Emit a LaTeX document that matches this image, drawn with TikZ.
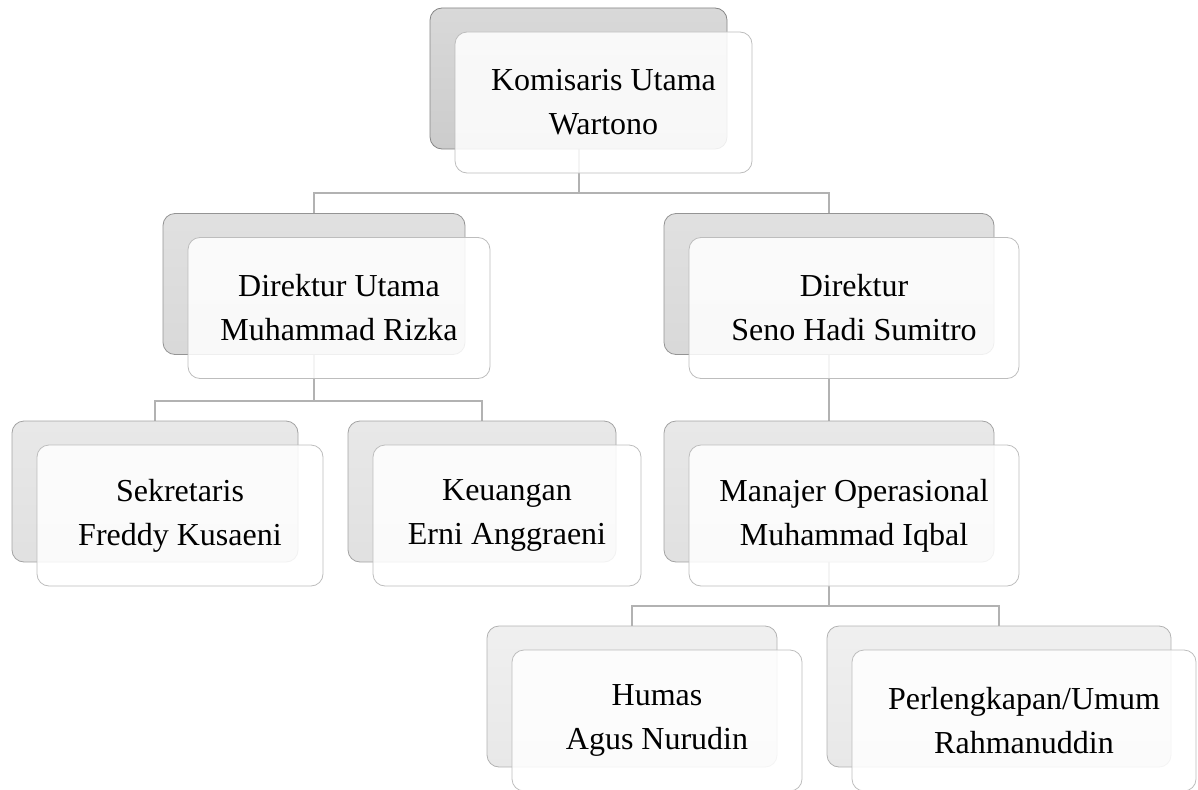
\documentclass[tikz,border=0pt]{standalone}
\usepackage{fontspec}
\setmainfont{Liberation Serif}
\usetikzlibrary{backgrounds}
\tikzset{
  backbox/.style={rectangle, rounded corners=12, minimum height=141, inner sep=0pt, line width=0.8pt},
  lvlA/.style={backbox, draw=black!48, top color=black!15, bottom color=black!20},
  lvlB/.style={backbox, draw=black!42, top color=black!12, bottom color=black!15},
  lvlC/.style={backbox, draw=black!36, top color=black!9, bottom color=black!12},
  lvlD/.style={backbox, draw=black!30, top color=black!6, bottom color=black!9},
  frontbox/.style={rectangle, rounded corners=12, minimum height=141, inner sep=0pt,
    draw=black!26, line width=0.8pt, fill=white, fill opacity=0.86, text opacity=1,
    align=center, font=\fontsize{32}{44}\selectfont},
  link/.style={draw=black!30, line width=2pt}
}
\begin{document}
\begin{tikzpicture}[x=1pt, y=-1pt]
            \useasboundingbox (0,0) rectangle (1198,789);
            \node[lvlA, minimum width=297] (komB) at (578.5,78.5) {};
            \node[frontbox, minimum width=297] (kom) at ([shift={(25,24)}]komB.center) {Komisaris Utama\\Wartono};
            \node[lvlB, minimum width=302] (dirUB) at (314,284) {};
            \node[frontbox, minimum width=302] (dirU) at ([shift={(25,24)}]dirUB.center) {Direktur Utama\\Muhammad Rizka};
            \node[lvlB, minimum width=330] (dirB) at (829,284) {};
            \node[frontbox, minimum width=330] (dir) at ([shift={(25,24)}]dirB.center) {Direktur\\Seno Hadi Sumitro};
            \node[lvlC, minimum width=286] (sekB) at (155,491.5) {};
            \node[frontbox, minimum width=286] (sek) at ([shift={(25,24)}]sekB.center) {Sekretaris\\Freddy Kusaeni};
            \node[lvlC, minimum width=268] (keuB) at (482,491.5) {};
            \node[frontbox, minimum width=268] (keu) at ([shift={(25,24)}]keuB.center) {Keuangan\\Erni Anggraeni};
            \node[lvlC, minimum width=330] (manB) at (829,491.5) {};
            \node[frontbox, minimum width=330] (man) at ([shift={(25,24)}]manB.center) {Manajer Operasional\\Muhammad Iqbal};
            \node[lvlD, minimum width=290] (humB) at (632,696.5) {};
            \node[frontbox, minimum width=290] (hum) at ([shift={(25,24)}]humB.center) {Humas\\Agus Nurudin};
            \node[lvlD, minimum width=344] (perB) at (999,696.5) {};
            \node[frontbox, minimum width=344] (per) at ([shift={(25,24)}]perB.center) {Perlengkapan/Umum\\Rahmanuddin};
            \begin{scope}[on background layer]
            \foreach \p/\c in {kom/dirU, kom/dir, dirU/sek, dirU/keu, dir/man, man/hum, man/per}
            \draw[link] (\p B.south) |- ([yshift=20pt]\c B.north) -- (\c B.north);
            \end{scope}
        \end{tikzpicture}
\end{document}
